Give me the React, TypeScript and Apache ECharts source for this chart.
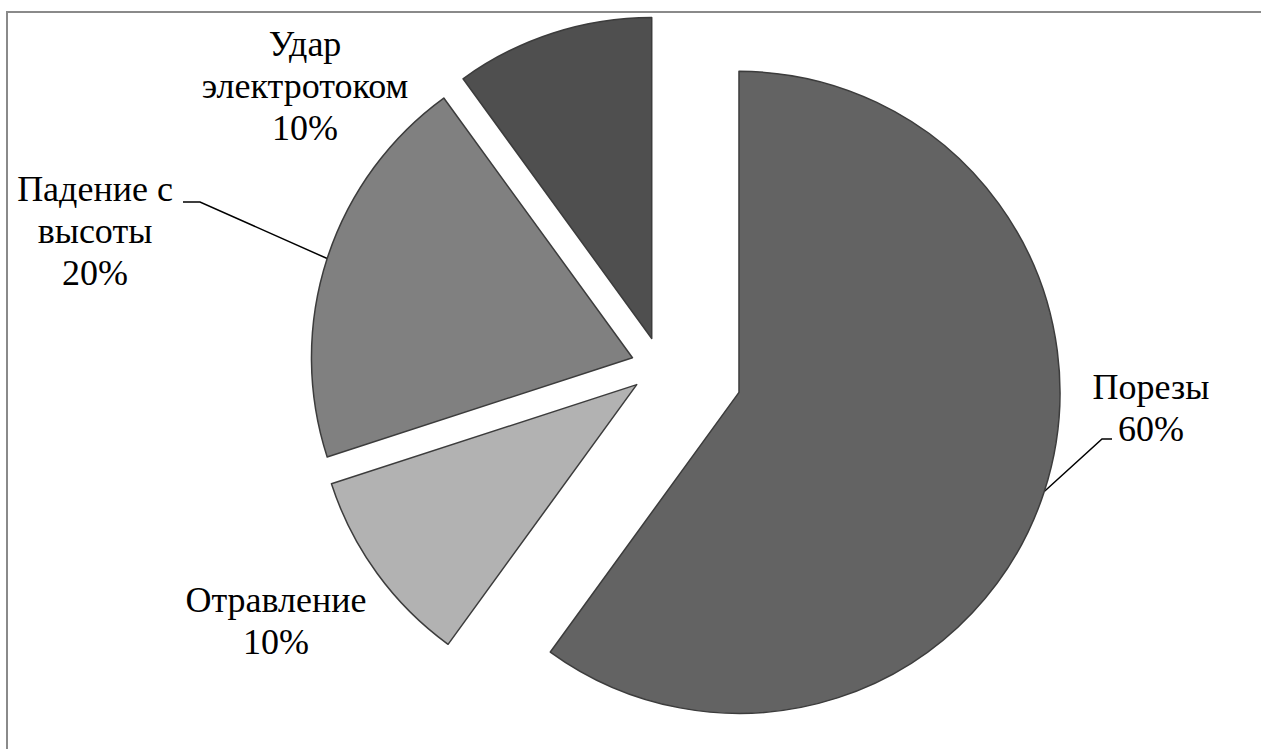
import React, { useEffect, useRef } from "react";
import * as echarts from "echarts";

// Injury causes and their shares (%)
const categories = ["Порезы", "Отравление", "Падение с высоты", "Удар электротоком"];
const categoryLabels = ["Порезы", "Отравление", "Падение с\nвысоты", "Удар\nэлектротоком"];
const shares = [60, 10, 20, 10];

// Styling / layout
const sliceColors = ["#636363", "#b2b2b2", "#808080", "#4f4f4f"];
const explodeOffsets = [82, 30, 30, 30];
const pieCenter = [661, 367];
const pieRadius = 321;
const labelPositions = [
  [1151, 408],
  [276, 621],
  [95, 231],
  [305, 86],
];
// Guide line bends: [elbow, end] or null when the label has no guide line
const guideBends: (number[][] | null)[] = [
  [
    [1102, 439],
    [1112, 439],
  ],
  null,
  [
    [200, 202],
    [183, 202],
  ],
  null,
];

const FONT = '"Liberation Serif", "Times New Roman", serif';

function midAngle(i: number): number {
  const total = shares.reduce((a, b) => a + b, 0);
  const before = shares.slice(0, i).reduce((a, b) => a + b, 0);
  return ((before + shares[i] / 2) / total) * Math.PI * 2; // clockwise from 12 o'clock
}

export default function App() {
  const ref = useRef<HTMLDivElement>(null);

  useEffect(() => {
    if (!ref.current) return;
    const chart = echarts.init(ref.current, undefined, { renderer: "svg" });

    const series = shares.map((_, i) => {
      const a = midAngle(i);
      const dx = Math.sin(a);
      const dy = -Math.cos(a);
      const cx = pieCenter[0] + explodeOffsets[i] * dx;
      const cy = pieCenter[1] + explodeOffsets[i] * dy;
      const bend = guideBends[i];
      return {
        type: "pie",
        name: categories[i],
        center: [cx, cy],
        radius: [0, pieRadius],
        startAngle: 90,
        clockwise: true,
        avoidLabelOverlap: false,
        percentPrecision: 0,
        silent: true,
        z: 2,
        label: {
          show: true,
          position: "outside",
          color: "#000",
          fontFamily: FONT,
          fontSize: 36,
          lineHeight: 42,
          formatter: (p: any) => `${categoryLabels[p.dataIndex]}\n${p.percent}%`,
        },
        labelLine: {
          show: !!bend,
          length: 10,
          length2: 10,
          smooth: false,
          lineStyle: { color: "#000", width: 1.5 },
        },
        labelLayout: (p: any) => {
          if (p.dataIndex !== i) return {};
          const out: any = {
            x: labelPositions[i][0],
            y: labelPositions[i][1],
            align: "center",
            verticalAlign: "middle",
          };
          if (bend) {
            const pts = p.labelLinePoints;
            const edge =
              pts && pts[0]
                ? pts[0]
                : [cx + pieRadius * dx, cy + pieRadius * dy];
            out.labelLinePoints = [edge, bend[0], bend[1]];
          }
          return out;
        },
        data: shares.map((v, j) => ({
          name: categories[j],
          value: v,
          itemStyle:
            j === i
              ? { color: sliceColors[j], borderColor: "#3c3c3c", borderWidth: 1.5 }
              : { color: "rgba(0,0,0,0)", borderWidth: 0 },
          label: { show: j === i },
          labelLine: { show: j === i && !!bend },
        })),
      };
    });

    chart.setOption({
      animation: false,
      backgroundColor: "#ffffff",
      tooltip: { show: false },
      graphic: [
        {
          type: "rect",
          shape: { x: 7, y: 12, width: 1300, height: 800 },
          style: { fill: "none", stroke: "#8a8a8a", lineWidth: 2 },
          silent: true,
          z: 0,
        },
      ],
      series,
    });

    return () => chart.dispose();
  }, []);

  return (
    <div
      ref={ref}
      style={{ position: "absolute", left: 0, top: 0, width: 1261, height: 749 }}
    />
  );
}
